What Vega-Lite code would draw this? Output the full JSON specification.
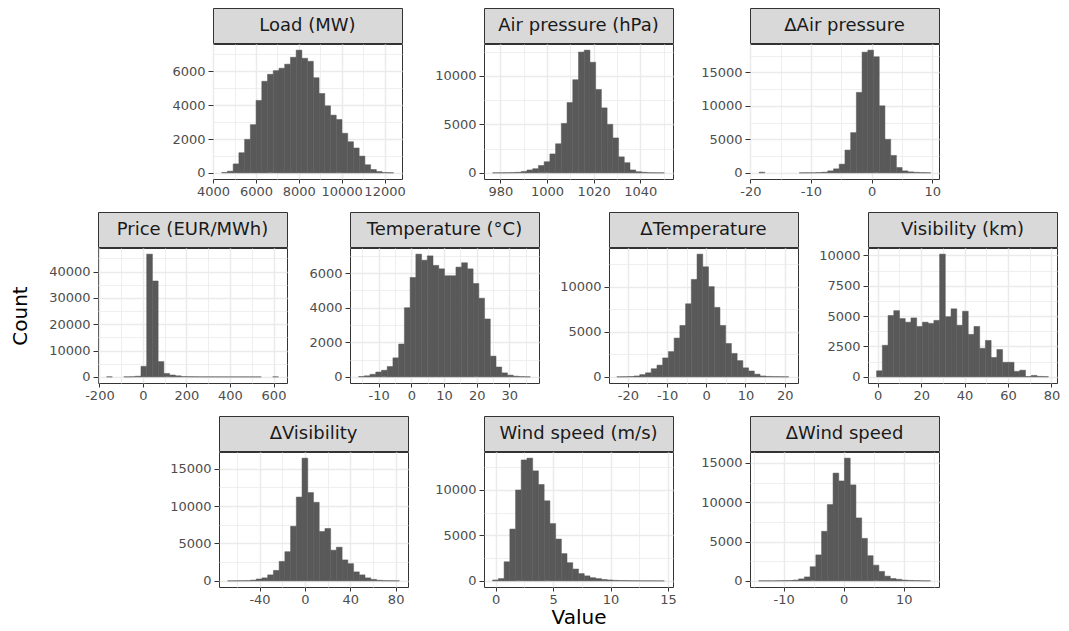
{
  "$schema": "https://vega.github.io/schema/vega-lite/v6.json",
  "background": "white",
  "padding": {"left": 10, "top": 7, "right": 3, "bottom": 5},
  "autosize": {"type": "pad"},
  "config": {
    "view": {"stroke": null},
    "axis": {"domain": false, "grid": true, "gridColor": "#EBEBEB", "tickColor": "#333333", "tickWidth": 1, "labelFont": "DejaVu Sans", "labelFontSize": 13, "labelColor": "#4D4D4D", "labelOverlap": false, "labelFlush": false, "titleFont": "DejaVu Sans", "titleFontSize": 20, "titleFontWeight": "normal", "titleColor": "#000000"},
    "axisX": {"tickSize": 4, "labelPadding": 2},
    "axisY": {"tickSize": 5, "labelPadding": 3},
    "bar": {"fill": "#595959", "stroke": "#595959", "strokeWidth": 0.5},
    "text": {"font": "DejaVu Sans", "fontSize": 18, "fill": "#1A1A1A"}
  },
  "datasets": {
    "load": [
      {"x0": 4401, "x1": 4668, "n": 20}, {"x0": 4668, "x1": 4936, "n": 100}, {"x0": 4936, "x1": 5203, "n": 530}, {"x0": 5203, "x1": 5470, "n": 1190}, {"x0": 5470, "x1": 5738, "n": 1980}, {"x0": 5738, "x1": 6005, "n": 2850}, {"x0": 6005, "x1": 6272, "n": 4280}, {"x0": 6272, "x1": 6539, "n": 5410}, {"x0": 6539, "x1": 6807, "n": 5820}, {"x0": 6807, "x1": 7074, "n": 6040}, {"x0": 7074, "x1": 7341, "n": 6180}, {"x0": 7341, "x1": 7609, "n": 6420}, {"x0": 7609, "x1": 7876, "n": 6830}, {"x0": 7876, "x1": 8143, "n": 7250}, {"x0": 8143, "x1": 8411, "n": 6770}, {"x0": 8411, "x1": 8678, "n": 6590}, {"x0": 8678, "x1": 8945, "n": 5620}, {"x0": 8945, "x1": 9212, "n": 4690}, {"x0": 9212, "x1": 9480, "n": 3960}, {"x0": 9480, "x1": 9747, "n": 3410}, {"x0": 9747, "x1": 10014, "n": 3150}, {"x0": 10014, "x1": 10282, "n": 2340}, {"x0": 10282, "x1": 10549, "n": 1840}, {"x0": 10549, "x1": 10816, "n": 1470}, {"x0": 10816, "x1": 11084, "n": 990}, {"x0": 11084, "x1": 11351, "n": 480}, {"x0": 11351, "x1": 11618, "n": 200}, {"x0": 11618, "x1": 11885, "n": 80}, {"x0": 11885, "x1": 12153, "n": 20}, {"x0": 12153, "x1": 12420, "n": 10}
    ],
    "air": [
      {"x0": 976.70, "x1": 979.15, "n": 10}, {"x0": 979.15, "x1": 981.61, "n": 10}, {"x0": 981.61, "x1": 984.06, "n": 20}, {"x0": 984.06, "x1": 986.51, "n": 30}, {"x0": 986.51, "x1": 988.97, "n": 60}, {"x0": 988.97, "x1": 991.42, "n": 150}, {"x0": 991.42, "x1": 993.87, "n": 300}, {"x0": 993.87, "x1": 996.32, "n": 430}, {"x0": 996.32, "x1": 998.78, "n": 760}, {"x0": 998.78, "x1": 1001.23, "n": 1150}, {"x0": 1001.23, "x1": 1003.68, "n": 1950}, {"x0": 1003.68, "x1": 1006.14, "n": 3000}, {"x0": 1006.14, "x1": 1008.59, "n": 5100}, {"x0": 1008.59, "x1": 1011.04, "n": 7250}, {"x0": 1011.04, "x1": 1013.50, "n": 9600}, {"x0": 1013.50, "x1": 1015.95, "n": 12450}, {"x0": 1015.95, "x1": 1018.40, "n": 12650}, {"x0": 1018.40, "x1": 1020.85, "n": 11400}, {"x0": 1020.85, "x1": 1023.31, "n": 8600}, {"x0": 1023.31, "x1": 1025.76, "n": 6700}, {"x0": 1025.76, "x1": 1028.21, "n": 5000}, {"x0": 1028.21, "x1": 1030.67, "n": 3600}, {"x0": 1030.67, "x1": 1033.12, "n": 1650}, {"x0": 1033.12, "x1": 1035.57, "n": 1050}, {"x0": 1035.57, "x1": 1038.03, "n": 300}, {"x0": 1038.03, "x1": 1040.48, "n": 120}, {"x0": 1040.48, "x1": 1042.93, "n": 60}, {"x0": 1042.93, "x1": 1045.38, "n": 20}, {"x0": 1045.38, "x1": 1047.84, "n": 10}, {"x0": 1047.84, "x1": 1050.29, "n": 5}
    ],
    "dair": [
      {"x0": -18.54, "x1": -17.60, "n": 100}, {"x0": -11.94, "x1": -11.00, "n": 10}, {"x0": -11.00, "x1": -10.06, "n": 20}, {"x0": -10.06, "x1": -9.12, "n": 30}, {"x0": -9.12, "x1": -8.17, "n": 50}, {"x0": -8.17, "x1": -7.23, "n": 100}, {"x0": -7.23, "x1": -6.29, "n": 300}, {"x0": -6.29, "x1": -5.35, "n": 600}, {"x0": -5.35, "x1": -4.40, "n": 1300}, {"x0": -4.40, "x1": -3.46, "n": 3400}, {"x0": -3.46, "x1": -2.52, "n": 6000}, {"x0": -2.52, "x1": -1.58, "n": 12000}, {"x0": -1.58, "x1": -0.63, "n": 18000}, {"x0": -0.63, "x1": 0.31, "n": 18300}, {"x0": 0.31, "x1": 1.25, "n": 17300}, {"x0": 1.25, "x1": 2.19, "n": 10000}, {"x0": 2.19, "x1": 3.14, "n": 5000}, {"x0": 3.14, "x1": 4.08, "n": 2600}, {"x0": 4.08, "x1": 5.02, "n": 800}, {"x0": 5.02, "x1": 5.96, "n": 300}, {"x0": 5.96, "x1": 6.91, "n": 150}, {"x0": 6.91, "x1": 7.85, "n": 80}, {"x0": 7.85, "x1": 8.79, "n": 40}, {"x0": 8.79, "x1": 9.73, "n": 20}
    ],
    "price": [
      {"x0": -167.0, "x1": -140.7, "n": 30}, {"x0": -88.0, "x1": -61.7, "n": 20}, {"x0": -61.7, "x1": -35.4, "n": 60}, {"x0": -35.4, "x1": -9.1, "n": 250}, {"x0": -9.1, "x1": 17.2, "n": 4000}, {"x0": 17.2, "x1": 43.6, "n": 46600}, {"x0": 43.6, "x1": 69.9, "n": 36400}, {"x0": 69.9, "x1": 96.2, "n": 5800}, {"x0": 96.2, "x1": 122.5, "n": 1300}, {"x0": 122.5, "x1": 148.8, "n": 700}, {"x0": 148.8, "x1": 175.2, "n": 400}, {"x0": 175.2, "x1": 201.5, "n": 150}, {"x0": 201.5, "x1": 227.8, "n": 80}, {"x0": 227.8, "x1": 254.1, "n": 50}, {"x0": 254.1, "x1": 280.4, "n": 30}, {"x0": 280.4, "x1": 306.8, "n": 20}, {"x0": 306.8, "x1": 333.1, "n": 20}, {"x0": 333.1, "x1": 359.4, "n": 15}, {"x0": 359.4, "x1": 385.7, "n": 10}, {"x0": 385.7, "x1": 412.0, "n": 10}, {"x0": 412.0, "x1": 438.4, "n": 10}, {"x0": 438.4, "x1": 464.7, "n": 10}, {"x0": 464.7, "x1": 491.0, "n": 10}, {"x0": 491.0, "x1": 517.3, "n": 5}, {"x0": 517.3, "x1": 543.6, "n": 5}, {"x0": 596.3, "x1": 622.6, "n": 20}
    ],
    "temp": [
      {"x0": -16.16, "x1": -14.41, "n": 20}, {"x0": -14.41, "x1": -12.65, "n": 60}, {"x0": -12.65, "x1": -10.90, "n": 150}, {"x0": -10.90, "x1": -9.14, "n": 280}, {"x0": -9.14, "x1": -7.39, "n": 380}, {"x0": -7.39, "x1": -5.64, "n": 600}, {"x0": -5.64, "x1": -3.88, "n": 1100}, {"x0": -3.88, "x1": -2.13, "n": 1900}, {"x0": -2.13, "x1": -0.37, "n": 4000}, {"x0": -0.37, "x1": 1.38, "n": 5750}, {"x0": 1.38, "x1": 3.13, "n": 7100}, {"x0": 3.13, "x1": 4.89, "n": 6750}, {"x0": 4.89, "x1": 6.64, "n": 7000}, {"x0": 6.64, "x1": 8.40, "n": 6450}, {"x0": 8.40, "x1": 10.15, "n": 6250}, {"x0": 10.15, "x1": 11.90, "n": 5850}, {"x0": 11.90, "x1": 13.66, "n": 5850}, {"x0": 13.66, "x1": 15.41, "n": 6350}, {"x0": 15.41, "x1": 17.17, "n": 6600}, {"x0": 17.17, "x1": 18.92, "n": 6250}, {"x0": 18.92, "x1": 20.67, "n": 5400}, {"x0": 20.67, "x1": 22.43, "n": 4550}, {"x0": 22.43, "x1": 24.18, "n": 3350}, {"x0": 24.18, "x1": 25.94, "n": 1200}, {"x0": 25.94, "x1": 27.69, "n": 570}, {"x0": 27.69, "x1": 29.44, "n": 230}, {"x0": 29.44, "x1": 31.20, "n": 100}, {"x0": 31.20, "x1": 32.95, "n": 40}, {"x0": 32.95, "x1": 34.71, "n": 15}, {"x0": 34.71, "x1": 36.46, "n": 5}
    ],
    "dtemp": [
      {"x0": -22.80, "x1": -21.34, "n": 10}, {"x0": -21.34, "x1": -19.88, "n": 20}, {"x0": -19.88, "x1": -18.42, "n": 40}, {"x0": -18.42, "x1": -16.96, "n": 100}, {"x0": -16.96, "x1": -15.50, "n": 250}, {"x0": -15.50, "x1": -14.03, "n": 450}, {"x0": -14.03, "x1": -12.57, "n": 900}, {"x0": -12.57, "x1": -11.11, "n": 1300}, {"x0": -11.11, "x1": -9.65, "n": 2100}, {"x0": -9.65, "x1": -8.19, "n": 2800}, {"x0": -8.19, "x1": -6.73, "n": 4300}, {"x0": -6.73, "x1": -5.27, "n": 5700}, {"x0": -5.27, "x1": -3.81, "n": 8100}, {"x0": -3.81, "x1": -2.35, "n": 10800}, {"x0": -2.35, "x1": -0.89, "n": 13600}, {"x0": -0.89, "x1": 0.58, "n": 12200}, {"x0": 0.58, "x1": 2.04, "n": 10000}, {"x0": 2.04, "x1": 3.50, "n": 7700}, {"x0": 3.50, "x1": 4.96, "n": 5700}, {"x0": 4.96, "x1": 6.42, "n": 3700}, {"x0": 6.42, "x1": 7.88, "n": 2600}, {"x0": 7.88, "x1": 9.34, "n": 1800}, {"x0": 9.34, "x1": 10.80, "n": 1000}, {"x0": 10.80, "x1": 12.26, "n": 650}, {"x0": 12.26, "x1": 13.72, "n": 300}, {"x0": 13.72, "x1": 15.19, "n": 100}, {"x0": 15.19, "x1": 16.65, "n": 50}, {"x0": 16.65, "x1": 18.11, "n": 30}, {"x0": 18.11, "x1": 19.57, "n": 20}, {"x0": 19.57, "x1": 21.03, "n": 10}
    ],
    "vis": [
      {"x0": -0.53, "x1": 2.11, "n": 500}, {"x0": 2.11, "x1": 4.74, "n": 2600}, {"x0": 4.74, "x1": 7.38, "n": 5050}, {"x0": 7.38, "x1": 10.02, "n": 5450}, {"x0": 10.02, "x1": 12.66, "n": 4800}, {"x0": 12.66, "x1": 15.29, "n": 4500}, {"x0": 15.29, "x1": 17.93, "n": 4850}, {"x0": 17.93, "x1": 20.57, "n": 4150}, {"x0": 20.57, "x1": 23.20, "n": 4500}, {"x0": 23.20, "x1": 25.84, "n": 4400}, {"x0": 25.84, "x1": 28.48, "n": 4650}, {"x0": 28.48, "x1": 31.11, "n": 10100}, {"x0": 31.11, "x1": 33.75, "n": 4950}, {"x0": 33.75, "x1": 36.39, "n": 5600}, {"x0": 36.39, "x1": 39.03, "n": 4250}, {"x0": 39.03, "x1": 41.66, "n": 5400}, {"x0": 41.66, "x1": 44.30, "n": 3500}, {"x0": 44.30, "x1": 46.94, "n": 4150}, {"x0": 46.94, "x1": 49.57, "n": 2350}, {"x0": 49.57, "x1": 52.21, "n": 3000}, {"x0": 52.21, "x1": 54.85, "n": 1600}, {"x0": 54.85, "x1": 57.48, "n": 2250}, {"x0": 57.48, "x1": 60.12, "n": 1200}, {"x0": 60.12, "x1": 62.76, "n": 1200}, {"x0": 62.76, "x1": 65.40, "n": 450}, {"x0": 65.40, "x1": 68.03, "n": 550}, {"x0": 68.03, "x1": 70.67, "n": 30}, {"x0": 70.67, "x1": 73.31, "n": 120}, {"x0": 73.31, "x1": 75.94, "n": 40}, {"x0": 75.94, "x1": 78.58, "n": 20}
    ],
    "dvis": [
      {"x0": -68.13, "x1": -63.08, "n": 5}, {"x0": -63.08, "x1": -58.03, "n": 10}, {"x0": -58.03, "x1": -52.99, "n": 20}, {"x0": -52.99, "x1": -47.94, "n": 30}, {"x0": -47.94, "x1": -42.89, "n": 100}, {"x0": -42.89, "x1": -37.84, "n": 250}, {"x0": -37.84, "x1": -32.79, "n": 400}, {"x0": -32.79, "x1": -27.75, "n": 800}, {"x0": -27.75, "x1": -22.70, "n": 1400}, {"x0": -22.70, "x1": -17.65, "n": 2600}, {"x0": -17.65, "x1": -12.60, "n": 3900}, {"x0": -12.60, "x1": -7.55, "n": 7300}, {"x0": -7.55, "x1": -2.51, "n": 11200}, {"x0": -2.51, "x1": 2.54, "n": 16400}, {"x0": 2.54, "x1": 7.59, "n": 11800}, {"x0": 7.59, "x1": 12.64, "n": 10500}, {"x0": 12.64, "x1": 17.69, "n": 6600}, {"x0": 17.69, "x1": 22.73, "n": 7000}, {"x0": 22.73, "x1": 27.78, "n": 4100}, {"x0": 27.78, "x1": 32.83, "n": 4500}, {"x0": 32.83, "x1": 37.88, "n": 2800}, {"x0": 37.88, "x1": 42.93, "n": 2300}, {"x0": 42.93, "x1": 47.97, "n": 1200}, {"x0": 47.97, "x1": 53.02, "n": 800}, {"x0": 53.02, "x1": 58.07, "n": 400}, {"x0": 58.07, "x1": 63.12, "n": 200}, {"x0": 63.12, "x1": 68.17, "n": 80}, {"x0": 68.17, "x1": 73.21, "n": 30}, {"x0": 73.21, "x1": 78.26, "n": 20}, {"x0": 78.26, "x1": 83.31, "n": 10}
    ],
    "wind": [
      {"x0": -0.27, "x1": 0.23, "n": 100}, {"x0": 0.23, "x1": 0.73, "n": 250}, {"x0": 0.73, "x1": 1.23, "n": 2100}, {"x0": 1.23, "x1": 1.73, "n": 5700}, {"x0": 1.73, "x1": 2.22, "n": 10000}, {"x0": 2.22, "x1": 2.72, "n": 13300}, {"x0": 2.72, "x1": 3.22, "n": 13500}, {"x0": 3.22, "x1": 3.72, "n": 12100}, {"x0": 3.72, "x1": 4.22, "n": 10600}, {"x0": 4.22, "x1": 4.72, "n": 8800}, {"x0": 4.72, "x1": 5.22, "n": 6300}, {"x0": 5.22, "x1": 5.72, "n": 4600}, {"x0": 5.72, "x1": 6.21, "n": 3000}, {"x0": 6.21, "x1": 6.71, "n": 2000}, {"x0": 6.71, "x1": 7.21, "n": 1300}, {"x0": 7.21, "x1": 7.71, "n": 800}, {"x0": 7.71, "x1": 8.21, "n": 550}, {"x0": 8.21, "x1": 8.71, "n": 350}, {"x0": 8.71, "x1": 9.21, "n": 250}, {"x0": 9.21, "x1": 9.71, "n": 150}, {"x0": 9.71, "x1": 10.20, "n": 100}, {"x0": 10.20, "x1": 10.70, "n": 60}, {"x0": 10.70, "x1": 11.20, "n": 40}, {"x0": 11.20, "x1": 11.70, "n": 30}, {"x0": 11.70, "x1": 12.20, "n": 20}, {"x0": 12.20, "x1": 12.70, "n": 15}, {"x0": 12.70, "x1": 13.20, "n": 10}, {"x0": 13.20, "x1": 13.70, "n": 10}, {"x0": 13.70, "x1": 14.20, "n": 5}, {"x0": 14.20, "x1": 14.69, "n": 5}
    ],
    "dwind": [
      {"x0": -14.17, "x1": -13.22, "n": 10}, {"x0": -13.22, "x1": -12.26, "n": 10}, {"x0": -12.26, "x1": -11.31, "n": 10}, {"x0": -11.31, "x1": -10.36, "n": 20}, {"x0": -10.36, "x1": -9.40, "n": 30}, {"x0": -9.40, "x1": -8.45, "n": 50}, {"x0": -8.45, "x1": -7.50, "n": 100}, {"x0": -7.50, "x1": -6.54, "n": 250}, {"x0": -6.54, "x1": -5.59, "n": 500}, {"x0": -5.59, "x1": -4.64, "n": 1800}, {"x0": -4.64, "x1": -3.68, "n": 3300}, {"x0": -3.68, "x1": -2.73, "n": 6300}, {"x0": -2.73, "x1": -1.77, "n": 9700}, {"x0": -1.77, "x1": -0.82, "n": 13700}, {"x0": -0.82, "x1": 0.13, "n": 12700}, {"x0": 0.13, "x1": 1.09, "n": 15600}, {"x0": 1.09, "x1": 2.04, "n": 12200}, {"x0": 2.04, "x1": 3.00, "n": 8000}, {"x0": 3.00, "x1": 3.95, "n": 5400}, {"x0": 3.95, "x1": 4.90, "n": 3200}, {"x0": 4.90, "x1": 5.86, "n": 2000}, {"x0": 5.86, "x1": 6.81, "n": 1200}, {"x0": 6.81, "x1": 7.76, "n": 600}, {"x0": 7.76, "x1": 8.72, "n": 300}, {"x0": 8.72, "x1": 9.67, "n": 200}, {"x0": 9.67, "x1": 10.62, "n": 100}, {"x0": 10.62, "x1": 11.58, "n": 60}, {"x0": 11.58, "x1": 12.53, "n": 40}, {"x0": 12.53, "x1": 13.49, "n": 20}, {"x0": 13.49, "x1": 14.44, "n": 10}
    ]
  },
  "spacing": -2,
  "bounds": "full",
  "vconcat": [
    {"spacing": 0, "bounds": "flush", "hconcat": [
      {"width": 115, "height": 35, "data": {"values": []}, "mark": "point"},
      {"width": 189, "height": 35, "view": {"fill": "#D9D9D9", "stroke": "#333333"}, "data": {"values": [{"label": "Load (MW)"}]}, "mark": "text", "encoding": {"text": {"field": "label"}}},
      {"width": 82, "height": 35, "data": {"values": []}, "mark": "point"},
      {"width": 189, "height": 35, "view": {"fill": "#D9D9D9", "stroke": "#333333"}, "data": {"values": [{"label": "Air pressure (hPa)"}]}, "mark": "text", "encoding": {"text": {"field": "label"}}},
      {"width": 77, "height": 35, "data": {"values": []}, "mark": "point"},
      {"width": 189, "height": 35, "view": {"fill": "#D9D9D9", "stroke": "#333333"}, "data": {"values": [{"label": "ΔAir pressure"}]}, "mark": "text", "encoding": {"text": {"field": "label"}}}
    ]},
    {"spacing": 0, "bounds": "flush", "hconcat": [
      {"width": 115, "height": 135, "data": {"values": []}, "mark": "point"},
      {"width": 189, "height": 135, "view": {"fill": "white", "stroke": "#333333"}, "data": {"name": "load"}, "mark": "bar",
       "encoding": {
         "x": {"field": "x0", "type": "quantitative", "scale": {"domain": [3995, 12815], "nice": false, "zero": false},
               "axis": {"title": null, "values": [4000, 5000, 6000, 7000, 8000, 9000, 10000, 11000, 12000], "labelExpr": "datum.value % 2000 ? '' : '' + datum.value", "gridWidth": {"condition": {"test": "datum.value % 2000", "value": 0.8}, "value": 1.5}, "tickOpacity": {"condition": {"test": "datum.value % 2000", "value": 0}, "value": 1}}},
         "x2": {"field": "x1"},
         "y": {"field": "n", "type": "quantitative", "scale": {"domain": [-362, 7612], "nice": false, "zero": false},
               "axis": {"title": null, "values": [0, 1000, 2000, 3000, 4000, 5000, 6000, 7000], "labelExpr": "datum.value % 2000 ? '' : '' + datum.value", "gridWidth": {"condition": {"test": "datum.value % 2000", "value": 0.8}, "value": 1.5}, "tickOpacity": {"condition": {"test": "datum.value % 2000", "value": 0}, "value": 1}}},
         "y2": {"datum": 0}}},
      {"width": 82, "height": 135, "data": {"values": []}, "mark": "point"},
      {"width": 189, "height": 135, "view": {"fill": "white", "stroke": "#333333"}, "data": {"name": "air"}, "mark": "bar",
       "encoding": {
         "x": {"field": "x0", "type": "quantitative", "scale": {"domain": [973.0, 1054.0], "nice": false, "zero": false},
               "axis": {"title": null, "values": [980, 990, 1000, 1010, 1020, 1030, 1040, 1050], "labelExpr": "datum.value % 20 ? '' : '' + datum.value", "gridWidth": {"condition": {"test": "datum.value % 20", "value": 0.8}, "value": 1.5}, "tickOpacity": {"condition": {"test": "datum.value % 20", "value": 0}, "value": 1}}},
         "x2": {"field": "x1"},
         "y": {"field": "n", "type": "quantitative", "scale": {"domain": [-632, 13282], "nice": false, "zero": false},
               "axis": {"title": null, "values": [0, 2500, 5000, 7500, 10000, 12500], "labelExpr": "datum.value % 5000 ? '' : '' + datum.value", "gridWidth": {"condition": {"test": "datum.value % 5000", "value": 0.8}, "value": 1.5}, "tickOpacity": {"condition": {"test": "datum.value % 5000", "value": 0}, "value": 1}}},
         "y2": {"datum": 0}}},
      {"width": 77, "height": 135, "data": {"values": []}, "mark": "point"},
      {"width": 189, "height": 135, "view": {"fill": "white", "stroke": "#333333"}, "data": {"name": "dair"}, "mark": "bar",
       "encoding": {
         "x": {"field": "x0", "type": "quantitative", "scale": {"domain": [-20.05, 11.1], "nice": false, "zero": false},
               "axis": {"title": null, "values": [-20, -15, -10, -5, 0, 5, 10], "labelExpr": "datum.value % 10 ? '' : '' + datum.value", "gridWidth": {"condition": {"test": "datum.value % 10", "value": 0.8}, "value": 1.5}, "tickOpacity": {"condition": {"test": "datum.value % 10", "value": 0}, "value": 1}}},
         "x2": {"field": "x1"},
         "y": {"field": "n", "type": "quantitative", "scale": {"domain": [-915, 19215], "nice": false, "zero": false},
               "axis": {"title": null, "values": [0, 2500, 5000, 7500, 10000, 12500, 15000, 17500], "labelExpr": "datum.value % 5000 ? '' : '' + datum.value", "gridWidth": {"condition": {"test": "datum.value % 5000", "value": 0.8}, "value": 1.5}, "tickOpacity": {"condition": {"test": "datum.value % 5000", "value": 0}, "value": 1}}},
         "y2": {"datum": 0}}}
    ]},
    {"width": 1, "height": 12.5, "data": {"values": []}, "mark": "point"},
    {"spacing": 0, "bounds": "flush", "hconcat": [
      {"width": 189, "height": 35, "view": {"fill": "#D9D9D9", "stroke": "#333333"}, "data": {"values": [{"label": "Price (EUR/MWh)"}]}, "mark": "text", "encoding": {"text": {"field": "label"}}},
      {"width": 63, "height": 35, "data": {"values": []}, "mark": "point"},
      {"width": 189, "height": 35, "view": {"fill": "#D9D9D9", "stroke": "#333333"}, "data": {"values": [{"label": "Temperature (°C)"}]}, "mark": "text", "encoding": {"text": {"field": "label"}}},
      {"width": 70, "height": 35, "data": {"values": []}, "mark": "point"},
      {"width": 189, "height": 35, "view": {"fill": "#D9D9D9", "stroke": "#333333"}, "data": {"values": [{"label": "ΔTemperature"}]}, "mark": "text", "encoding": {"text": {"field": "label"}}},
      {"width": 70, "height": 35, "data": {"values": []}, "mark": "point"},
      {"width": 189, "height": 35, "view": {"fill": "#D9D9D9", "stroke": "#333333"}, "data": {"values": [{"label": "Visibility (km)"}]}, "mark": "text", "encoding": {"text": {"field": "label"}}}
    ]},
    {"spacing": 0, "bounds": "flush", "hconcat": [
      {"width": 189, "height": 135, "view": {"fill": "white", "stroke": "#333333"}, "data": {"name": "price"}, "mark": "bar",
       "encoding": {
         "x": {"field": "x0", "type": "quantitative", "scale": {"domain": [-206.5, 662], "nice": false, "zero": false},
               "axis": {"title": null, "values": [-200, -100, 0, 100, 200, 300, 400, 500, 600], "labelExpr": "datum.value % 200 ? '' : '' + datum.value", "gridWidth": {"condition": {"test": "datum.value % 200", "value": 0.8}, "value": 1.5}, "tickOpacity": {"condition": {"test": "datum.value % 200", "value": 0}, "value": 1}}},
         "x2": {"field": "x1"},
         "y": {"field": "n", "type": "quantitative", "scale": {"domain": [-2330, 48930], "nice": false, "zero": false},
               "axis": {"title": "Count", "titlePadding": 18, "values": [0, 5000, 10000, 15000, 20000, 25000, 30000, 35000, 40000, 45000], "labelExpr": "datum.value % 10000 ? '' : '' + datum.value", "gridWidth": {"condition": {"test": "datum.value % 10000", "value": 0.8}, "value": 1.5}, "tickOpacity": {"condition": {"test": "datum.value % 10000", "value": 0}, "value": 1}}},
         "y2": {"datum": 0}}},
      {"width": 63, "height": 135, "data": {"values": []}, "mark": "point"},
      {"width": 189, "height": 135, "view": {"fill": "white", "stroke": "#333333"}, "data": {"name": "temp"}, "mark": "bar",
       "encoding": {
         "x": {"field": "x0", "type": "quantitative", "scale": {"domain": [-18.79, 39.1], "nice": false, "zero": false},
               "axis": {"title": null, "values": [-15, -10, -5, 0, 5, 10, 15, 20, 25, 30, 35], "labelExpr": "datum.value % 10 ? '' : '' + datum.value", "gridWidth": {"condition": {"test": "datum.value % 10", "value": 0.8}, "value": 1.5}, "tickOpacity": {"condition": {"test": "datum.value % 10", "value": 0}, "value": 1}}},
         "x2": {"field": "x1"},
         "y": {"field": "n", "type": "quantitative", "scale": {"domain": [-355, 7455], "nice": false, "zero": false},
               "axis": {"title": null, "values": [0, 1000, 2000, 3000, 4000, 5000, 6000, 7000], "labelExpr": "datum.value % 2000 ? '' : '' + datum.value", "gridWidth": {"condition": {"test": "datum.value % 2000", "value": 0.8}, "value": 1.5}, "tickOpacity": {"condition": {"test": "datum.value % 2000", "value": 0}, "value": 1}}},
         "y2": {"datum": 0}}},
      {"width": 70, "height": 135, "data": {"values": []}, "mark": "point"},
      {"width": 189, "height": 135, "view": {"fill": "white", "stroke": "#333333"}, "data": {"name": "dtemp"}, "mark": "bar",
       "encoding": {
         "x": {"field": "x0", "type": "quantitative", "scale": {"domain": [-24.8, 23.4], "nice": false, "zero": false},
               "axis": {"title": null, "values": [-20, -15, -10, -5, 0, 5, 10, 15, 20], "labelExpr": "datum.value % 10 ? '' : '' + datum.value", "gridWidth": {"condition": {"test": "datum.value % 10", "value": 0.8}, "value": 1.5}, "tickOpacity": {"condition": {"test": "datum.value % 10", "value": 0}, "value": 1}}},
         "x2": {"field": "x1"},
         "y": {"field": "n", "type": "quantitative", "scale": {"domain": [-680, 14280], "nice": false, "zero": false},
               "axis": {"title": null, "values": [0, 2500, 5000, 7500, 10000, 12500], "labelExpr": "datum.value % 5000 ? '' : '' + datum.value", "gridWidth": {"condition": {"test": "datum.value % 5000", "value": 0.8}, "value": 1.5}, "tickOpacity": {"condition": {"test": "datum.value % 5000", "value": 0}, "value": 1}}},
         "y2": {"datum": 0}}},
      {"width": 70, "height": 135, "data": {"values": []}, "mark": "point"},
      {"width": 189, "height": 135, "view": {"fill": "white", "stroke": "#333333"}, "data": {"name": "vis"}, "mark": "bar",
       "encoding": {
         "x": {"field": "x0", "type": "quantitative", "scale": {"domain": [-4.49, 82.54], "nice": false, "zero": false},
               "axis": {"title": null, "values": [0, 10, 20, 30, 40, 50, 60, 70, 80], "labelExpr": "datum.value % 20 ? '' : '' + datum.value", "gridWidth": {"condition": {"test": "datum.value % 20", "value": 0.8}, "value": 1.5}, "tickOpacity": {"condition": {"test": "datum.value % 20", "value": 0}, "value": 1}}},
         "x2": {"field": "x1"},
         "y": {"field": "n", "type": "quantitative", "scale": {"domain": [-505, 10605], "nice": false, "zero": false},
               "axis": {"title": null, "values": [0, 1250, 2500, 3750, 5000, 6250, 7500, 8750, 10000], "labelExpr": "datum.value % 2500 ? '' : '' + datum.value", "gridWidth": {"condition": {"test": "datum.value % 2500", "value": 0.8}, "value": 1.5}, "tickOpacity": {"condition": {"test": "datum.value % 2500", "value": 0}, "value": 1}}},
         "y2": {"datum": 0}}}
    ]},
    {"width": 1, "height": 12.5, "data": {"values": []}, "mark": "point"},
    {"spacing": 0, "bounds": "flush", "hconcat": [
      {"width": 121, "height": 35, "data": {"values": []}, "mark": "point"},
      {"width": 189, "height": 35, "view": {"fill": "#D9D9D9", "stroke": "#333333"}, "data": {"values": [{"label": "ΔVisibility"}]}, "mark": "text", "encoding": {"text": {"field": "label"}}},
      {"width": 76, "height": 35, "data": {"values": []}, "mark": "point"},
      {"width": 189, "height": 35, "view": {"fill": "#D9D9D9", "stroke": "#333333"}, "data": {"values": [{"label": "Wind speed (m/s)"}]}, "mark": "text", "encoding": {"text": {"field": "label"}}},
      {"width": 77, "height": 35, "data": {"values": []}, "mark": "point"},
      {"width": 189, "height": 35, "view": {"fill": "#D9D9D9", "stroke": "#333333"}, "data": {"values": [{"label": "ΔWind speed"}]}, "mark": "text", "encoding": {"text": {"field": "label"}}}
    ]},
    {"spacing": 0, "bounds": "flush", "hconcat": [
      {"width": 121, "height": 135, "data": {"values": []}, "mark": "point"},
      {"width": 189, "height": 135, "view": {"fill": "white", "stroke": "#333333"}, "data": {"name": "dvis"}, "mark": "bar",
       "encoding": {
         "x": {"field": "x0", "type": "quantitative", "scale": {"domain": [-75.7, 90.9], "nice": false, "zero": false},
               "axis": {"title": null, "values": [-60, -40, -20, 0, 20, 40, 60, 80], "labelExpr": "datum.value % 40 ? '' : '' + datum.value", "gridWidth": {"condition": {"test": "datum.value % 40", "value": 0.8}, "value": 1.5}, "tickOpacity": {"condition": {"test": "datum.value % 40", "value": 0}, "value": 1}}},
         "x2": {"field": "x1"},
         "y": {"field": "n", "type": "quantitative", "scale": {"domain": [-820, 17220], "nice": false, "zero": false},
               "axis": {"title": null, "values": [0, 2500, 5000, 7500, 10000, 12500, 15000], "labelExpr": "datum.value % 5000 ? '' : '' + datum.value", "gridWidth": {"condition": {"test": "datum.value % 5000", "value": 0.8}, "value": 1.5}, "tickOpacity": {"condition": {"test": "datum.value % 5000", "value": 0}, "value": 1}}},
         "y2": {"datum": 0}}},
      {"width": 76, "height": 135, "data": {"values": []}, "mark": "point"},
      {"width": 189, "height": 135, "view": {"fill": "white", "stroke": "#333333"}, "data": {"name": "wind"}, "mark": "bar",
       "encoding": {
         "x": {"field": "x0", "type": "quantitative", "scale": {"domain": [-1.02, 15.44], "nice": false, "zero": false},
               "axis": {"title": "Value", "titlePadding": 1, "values": [0, 2.5, 5, 7.5, 10, 12.5, 15], "labelExpr": "datum.value % 5 ? '' : '' + datum.value", "gridWidth": {"condition": {"test": "datum.value % 5", "value": 0.8}, "value": 1.5}, "tickOpacity": {"condition": {"test": "datum.value % 5", "value": 0}, "value": 1}}},
         "x2": {"field": "x1"},
         "y": {"field": "n", "type": "quantitative", "scale": {"domain": [-675, 14175], "nice": false, "zero": false},
               "axis": {"title": null, "values": [0, 2500, 5000, 7500, 10000, 12500], "labelExpr": "datum.value % 5000 ? '' : '' + datum.value", "gridWidth": {"condition": {"test": "datum.value % 5000", "value": 0.8}, "value": 1.5}, "tickOpacity": {"condition": {"test": "datum.value % 5000", "value": 0}, "value": 1}}},
         "y2": {"datum": 0}}},
      {"width": 77, "height": 135, "data": {"values": []}, "mark": "point"},
      {"width": 189, "height": 135, "view": {"fill": "white", "stroke": "#333333"}, "data": {"name": "dwind"}, "mark": "bar",
       "encoding": {
         "x": {"field": "x0", "type": "quantitative", "scale": {"domain": [-15.6, 15.87], "nice": false, "zero": false},
               "axis": {"title": null, "values": [-15, -10, -5, 0, 5, 10, 15], "labelExpr": "datum.value % 10 ? '' : '' + datum.value", "gridWidth": {"condition": {"test": "datum.value % 10", "value": 0.8}, "value": 1.5}, "tickOpacity": {"condition": {"test": "datum.value % 10", "value": 0}, "value": 1}}},
         "x2": {"field": "x1"},
         "y": {"field": "n", "type": "quantitative", "scale": {"domain": [-780, 16380], "nice": false, "zero": false},
               "axis": {"title": null, "values": [0, 2500, 5000, 7500, 10000, 12500, 15000], "labelExpr": "datum.value % 5000 ? '' : '' + datum.value", "gridWidth": {"condition": {"test": "datum.value % 5000", "value": 0.8}, "value": 1.5}, "tickOpacity": {"condition": {"test": "datum.value % 5000", "value": 0}, "value": 1}}},
         "y2": {"datum": 0}}}
    ]}
  ]
}
